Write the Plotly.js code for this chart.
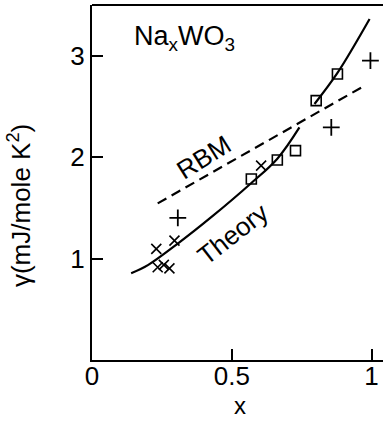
<!DOCTYPE html>
<html>
<head>
<meta charset="utf-8">
<script src="https://cdn.plot.ly/plotly-3.0.1.min.js"></script>
<style>html,body{margin:0;padding:0;background:#fff;overflow:hidden}</style>
</head>
<body>
<div id="chart" style="width:383px;height:421px"></div>
<script>
// Theory curve (solid), with a break where it crosses the RBM line
const theoryX = [0.140, 0.200, 0.301, 0.432, 0.570, 0.663, 0.742, null, 0.796, 0.878, 0.993];
const theoryY = [0.855, 0.935, 1.135, 1.420, 1.745, 1.985, 2.294, null, 2.524, 2.830, 3.362];
// RBM (dashed straight line)
const rbmX = [0.235, 0.969];
const rbmY = [1.544, 2.695];
// Open squares
const sqX = [0.570, 0.663, 0.728, 0.802, 0.878];
const sqY = [1.785, 1.972, 2.064, 2.557, 2.820];
// Plus markers
const plusX = [0.307, 0.856, 0.996];
const plusY = [1.401, 2.294, 2.951];
// Cross (x) markers
const crossX = [0.230, 0.295, 0.235, 0.257, 0.277, 0.605];
const crossY = [1.096, 1.177, 0.914, 0.938, 0.904, 1.916];
// Ticks
const xTicks = [0, 0.5, 1];
const xTickText = ['0', '0.5', '1'];
const yTicks = [1, 2, 3];
const yTickText = ['1', '2', '3'];
// Titles
const xTitle = 'x';
const yTitle = 'γ(mJ/mole K<sup>2</sup>)';

const FONT = 'Liberation Sans, Arial, Helvetica, sans-serif';

const traces = [
  {x: theoryX, y: theoryY, mode: 'lines', line: {color: '#000', width: 2.2, shape: 'spline', smoothing: 1}, connectgaps: false, hoverinfo: 'skip'},
  {x: rbmX, y: rbmY, mode: 'lines', line: {color: '#000', width: 2.2, dash: '10px,6px'}, hoverinfo: 'skip'},
  {x: sqX, y: sqY, mode: 'markers', marker: {symbol: 'square-open', size: 10, color: '#000', line: {width: 1.6, color: '#000'}}},
  {x: plusX, y: plusY, mode: 'markers', marker: {symbol: 'cross-thin-open', size: 12, color: '#000', line: {width: 1.8, color: '#000'}}},
  {x: crossX, y: crossY, mode: 'markers', marker: {symbol: 'x-thin-open', size: 10, color: '#000', line: {width: 1.6, color: '#000'}}}
];

const layout = {
  width: 383, height: 421,
  margin: {l: 92, r: 0, t: 5, b: 61},
  paper_bgcolor: '#fff', plot_bgcolor: '#fff',
  showlegend: false,
  font: {family: FONT, color: '#000', size: 26},
  xaxis: {
    range: [0, 1.041], tickvals: xTicks, ticktext: xTickText,
    ticks: 'inside', ticklen: 11, tickwidth: 2, tickcolor: '#000',
    showline: true, linewidth: 2, linecolor: '#000', showgrid: false, zeroline: false,
    tickfont: {size: 26, family: FONT}, ticklabelstandoff: -8
  },
  yaxis: {
    range: [0, 3.5], tickvals: yTicks, ticktext: yTickText,
    ticks: 'inside', ticklen: 11, tickwidth: 2, tickcolor: '#000',
    showline: true, linewidth: 2, linecolor: '#000', showgrid: false, zeroline: false,
    tickfont: {size: 26, family: FONT}
  },
  shapes: [
    {type: 'line', xref: 'paper', yref: 'paper', x0: 0, x1: 1, y0: 1, y1: 1, line: {color: '#000', width: 2}}
  ],
  annotations: [
    {x: 0.531, y: -0.127, xref: 'x', yref: 'paper', text: xTitle, showarrow: false, xanchor: 'center', yanchor: 'middle', font: {size: 24, family: FONT}},
    {x: -0.247, y: 0.434, xref: 'paper', yref: 'paper', text: yTitle, textangle: -90, showarrow: false, xanchor: 'center', yanchor: 'middle', font: {size: 26, family: FONT}},
    {x: 0.331, y: 3.177, xref: 'x', yref: 'y', text: 'Na<sub>x</sub>WO<sub>3</sub>', showarrow: false, font: {size: 27, family: FONT}},
    {x: 0.402, y: 1.998, xref: 'x', yref: 'y', text: 'RBM', textangle: -32, showarrow: false, font: {size: 26, family: FONT}},
    {x: 0.503, y: 1.246, xref: 'x', yref: 'y', text: 'Theory', textangle: -38, showarrow: false, font: {size: 26, family: FONT}}
  ]
};

Plotly.newPlot('chart', traces, layout, {staticPlot: true, displayModeBar: false});
</script>
</body>
</html>
